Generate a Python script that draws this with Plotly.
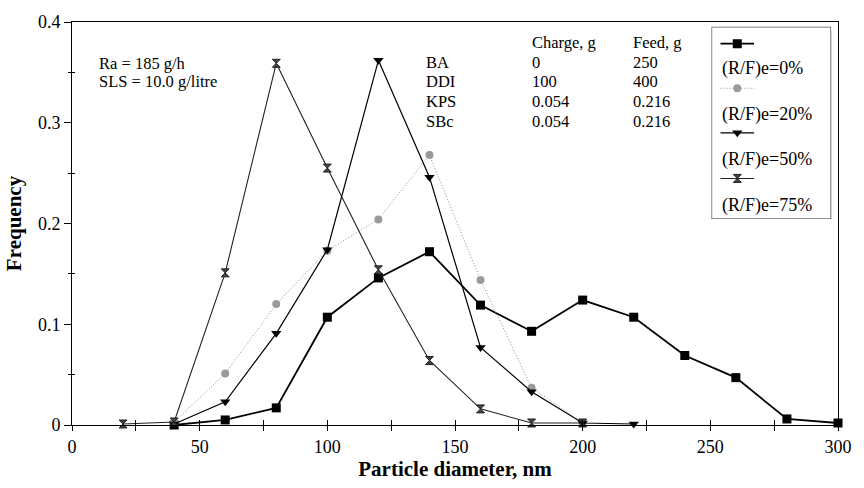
import plotly.graph_objects as go

# Particle size distributions for different (R/F)e ratios
rf0_x = [40, 60, 80, 100, 120, 140, 160, 180, 200, 220, 240, 260, 280, 300]
rf0_y = [0.000, 0.005, 0.017, 0.107, 0.146, 0.172, 0.119, 0.093, 0.124, 0.107, 0.069, 0.047, 0.006, 0.002]

rf20_x = [40, 60, 80, 100, 120, 140, 160, 180, 200]
rf20_y = [0.003, 0.051, 0.120, 0.173, 0.204, 0.268, 0.144, 0.037, 0.002]

rf50_x = [40, 60, 80, 100, 120, 140, 160, 180, 200, 220]
rf50_y = [0.001, 0.023, 0.091, 0.174, 0.362, 0.246, 0.077, 0.033, 0.002, 0.001]

rf75_x = [20, 40, 60, 80, 100, 120, 140, 160, 180, 200]
rf75_y = [0.001, 0.003, 0.151, 0.359, 0.255, 0.154, 0.064, 0.016, 0.002, 0.002]

series_names = ["(R/F)e=0%", "(R/F)e=20%", "(R/F)e=50%", "(R/F)e=75%"]

# Recipe table
table_header = ["Charge, g", "Feed, g"]
table_rows = ["BA", "DDI", "KPS", "SBc"]
charge_g = ["0", "100", "0.054", "0.054"]
feed_g = ["250", "400", "0.216", "0.216"]

conditions = ["Ra = 185 g/h", "SLS = 10.0 g/litre"]

FONT = "Liberation Serif, Times New Roman, serif"

styles = [
    dict(line=dict(color="black", width=1.8), marker=dict(symbol="square", size=9, color="black")),
    dict(line=dict(color="#8c8c8c", width=1, dash="1px,2px"), marker=dict(symbol="circle", size=8, color="#9a9a9a")),
    dict(line=dict(color="black", width=1.2), marker=dict(symbol="triangle-down", size=9, color="black")),
    dict(line=dict(color="#222222", width=1.1), marker=dict(symbol="hourglass", size=8, color="#444444",
                                                          line=dict(color="#222222", width=1))),
]

fig = go.Figure()
for name, xs, ys, st in zip(series_names, [rf0_x, rf20_x, rf50_x, rf75_x],
                            [rf0_y, rf20_y, rf50_y, rf75_y], styles):
    fig.add_trace(go.Scatter(x=xs, y=ys, mode="lines+markers", name=name,
                             showlegend=False, cliponaxis=False, **st))

# Overlay axes carrying the inward half of the crossing ticks
fig.add_trace(go.Scatter(x=[], y=[], xaxis="x2", yaxis="y2", showlegend=False, hoverinfo="skip"))

# Boxed legend: sample line above each label
LW, LH = 121, 194
sample_y = [17, 62, 107, 153]
label_y = [42, 88, 134, 180]
for st, sy in zip(styles, sample_y):
    fig.add_trace(go.Scatter(x=[9, 26, 43], y=[sy, sy, sy], mode="lines",
                             line=st["line"], xaxis="x3", yaxis="y3",
                             showlegend=False, hoverinfo="skip"))
    fig.add_trace(go.Scatter(x=[26], y=[sy], mode="markers", marker=st["marker"],
                             xaxis="x3", yaxis="y3", showlegend=False, hoverinfo="skip"))

shapes = [
    dict(type="rect", xref="x3", yref="y3", x0=4, x1=LW + 4, y0=4, y1=LH + 4,
         fillcolor="black", line=dict(width=0), layer="below"),
    dict(type="rect", xref="x3", yref="y3", x0=0, x1=LW, y0=0, y1=LH,
         fillcolor="white", line=dict(color="black", width=1), layer="below"),
]

annotations = []
for name, ly in zip(series_names, label_y):
    annotations.append(dict(x=8, y=ly, xref="x3", yref="y3", text=name, showarrow=False,
                            xanchor="left", yanchor="middle", font=dict(size=18)))

for txt, yy in zip(conditions, [0.3590, 0.3412]):
    annotations.append(dict(x=9.7, y=yy, xref="x", yref="y", text=txt, showarrow=False,
                            xanchor="left", yanchor="middle", font=dict(size=16.5)))

col_x = [137.8, 179.3, 219.1]
row_y = [0.3794, 0.3597, 0.3410, 0.3214, 0.3017]
for hdr, cx in zip(table_header, col_x[1:]):
    annotations.append(dict(x=cx, y=row_y[0], text=hdr, showarrow=False, xanchor="left",
                            yanchor="middle", font=dict(size=16.5)))
for i, (lab, c, f) in enumerate(zip(table_rows, charge_g, feed_g)):
    for txt, cx in zip([lab, c, f], col_x):
        annotations.append(dict(x=cx, y=row_y[i + 1], text=txt, showarrow=False, xanchor="left",
                                yanchor="middle", font=dict(size=16.5)))

fig.update_layout(
    width=864, height=488,
    margin=dict(l=72, r=17, t=18, b=63),
    paper_bgcolor="white", plot_bgcolor="white",
    font=dict(family=FONT, color="black", size=18),
    xaxis=dict(range=[0, 300], dtick=50, showgrid=False, zeroline=False,
               showline=True, linecolor="black", linewidth=1, mirror=True,
               ticks="outside", ticklen=5, tickcolor="black",
               minor=dict(dtick=25, ticks="outside", ticklen=5, tickcolor="black"),
               tickfont=dict(size=18),
               title=dict(text="<b>Particle diameter, nm</b>", font=dict(size=21), standoff=5)),
    yaxis=dict(range=[0, 0.4], dtick=0.1, showgrid=False, zeroline=False,
               showline=True, linecolor="black", linewidth=1, mirror=True,
               ticks="outside", ticklen=7, tickcolor="black",
               minor=dict(dtick=0.05, ticks="outside", ticklen=3, tickcolor="black"),
               tickformat="~g", tickfont=dict(size=18),
               title=dict(text="<b>Frequency</b>", font=dict(size=21), standoff=10)),
    xaxis2=dict(overlaying="x", matches="x", range=[0, 300], dtick=50, showgrid=False,
                zeroline=False, showline=False, showticklabels=False,
                ticks="inside", ticklen=5, tickcolor="black",
                minor=dict(dtick=25, ticks="inside", ticklen=5, tickcolor="black")),
    yaxis2=dict(overlaying="y", matches="y", range=[0, 0.4], dtick=0.1, showgrid=False,
                zeroline=False, showline=False, showticklabels=False,
                ticks="inside", ticklen=0.1, tickcolor="black",
                minor=dict(dtick=0.05, ticks="inside", ticklen=3, tickcolor="black")),
    xaxis3=dict(domain=[0.835, 0.991], range=[0, LW], visible=False, fixedrange=True),
    yaxis3=dict(domain=[0.511, 0.988], range=[LH, 0], visible=False, fixedrange=True,
                anchor="x3"),
    shapes=shapes,
    annotations=annotations,
    showlegend=False,
)
fig.layout.xaxis3.anchor = "y3"

fig.write_html("out.html")
